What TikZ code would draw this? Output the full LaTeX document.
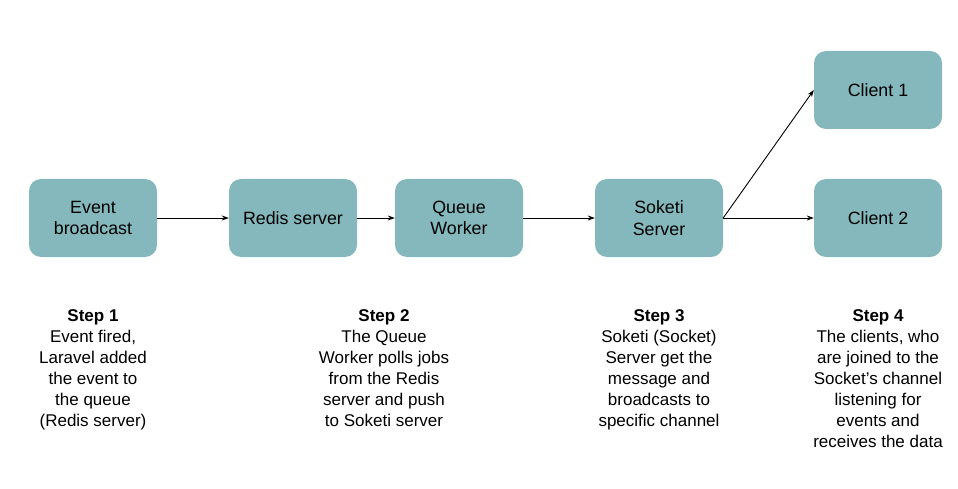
\documentclass[tikz,border=0pt]{standalone}
\usepackage{fontspec}
\setmainfont{Liberation Sans}
\usetikzlibrary{arrows.meta}
\definecolor{boxteal}{RGB}{132,184,188}
\tikzset{
  stagebox/.style={fill=boxteal, rounded corners=12pt, minimum width=128pt,
    minimum height=78pt, align=center, inner sep=2pt,
    font=\fontsize{17.8}{21.5}\selectfont},
  flow/.style={-{Stealth[length=7pt,width=5pt]}, line width=0.9pt},
  steptext/.style={anchor=north, align=center, font=\fontsize{17}{21}\selectfont}
}
\begin{document}
\begin{tikzpicture}[x=1pt, y=-1pt]
    % Picture frame
    \useasboundingbox[fill=white] (0,0) rectangle (958,489);

    % Define box centres
    \coordinate (E) at (93,218);
    \coordinate (R) at (293,218);
    \coordinate (Q) at (459,218);
    \coordinate (S) at (659,218);
    \coordinate (C1) at (878,90);
    \coordinate (C2) at (878,218);

    % Draw the stages
    \node[stagebox] (event) at (E) {Event\\broadcast};
    \node[stagebox] (redis) at (R) {Redis server};
    \node[stagebox] (queue) at (Q) {Queue\\Worker};
    \node[stagebox] (soketi) at (S) {Soketi\\Server};
    \node[stagebox] (client1) at (C1) {Client 1};
    \node[stagebox] (client2) at (C2) {Client 2};

    % Draw the flow arrows
    \draw[flow] (event) -- (redis);
    \draw[flow] (redis) -- (queue);
    \draw[flow] (queue) -- (soketi);
    \draw[flow] (soketi.east) -- (client1.west);
    \draw[flow] (soketi.east) -- (client2.west);

    % Label the steps
    \node[steptext] (step1) at (93,306) {\textbf{Step 1}\\Event fired,\\Laravel added\\the event to\\the queue\\(Redis server)};
    \node[steptext] (step2) at (384,306) {\textbf{Step 2}\\The Queue\\Worker polls jobs\\from the Redis\\server and push\\to Soketi server};
    \node[steptext] (step3) at (659,306) {\textbf{Step 3}\\Soketi (Socket)\\Server get the\\message and\\broadcasts to\\specific channel};
    \node[steptext] (step4) at (878,306) {\textbf{Step 4}\\The clients, who\\are joined to the\\Socket's channel\\listening for\\events and\\receives the data};
\end{tikzpicture}
\end{document}
